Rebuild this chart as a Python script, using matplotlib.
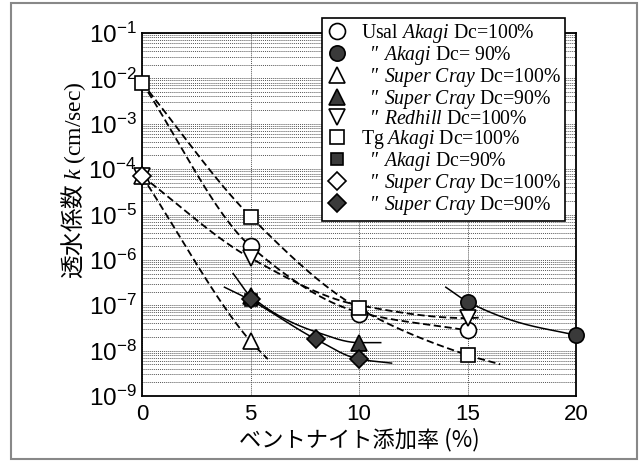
import numpy as np
import matplotlib
matplotlib.use("Agg")
import matplotlib.pyplot as plt
from matplotlib.patches import Rectangle
from matplotlib.font_manager import FontProperties

plt.rcParams['mathtext.fontset'] = 'custom'
plt.rcParams['mathtext.rm'] = 'Liberation Serif'
plt.rcParams['mathtext.sf'] = 'Liberation Sans'
plt.rcParams['mathtext.it'] = 'Liberation Serif:italic'
plt.rcParams['mathtext.default'] = 'rm'

# ---------------- data ----------------
xticks = [0, 5, 10, 15, 20]
ytick_exps = [-9, -8, -7, -6, -5, -4, -3, -2, -1]

DITTO = "\u2033"
labels = [
    "Usal $\\mathit{Akagi}$ Dc=100%",
    "  " + DITTO + " $\\mathit{Akagi}$ Dc= 90%",
    "  " + DITTO + " $\\mathit{Super\\ Cray}$ Dc=100%",
    "  " + DITTO + " $\\mathit{Super\\ Cray}$ Dc=90%",
    "  " + DITTO + " $\\mathit{Redhill}$ Dc=100%",
    "Tg $\\mathit{Akagi}$ Dc=100%",
    "  " + DITTO + " $\\mathit{Akagi}$ Dc=90%",
    "  " + DITTO + " $\\mathit{Super\\ Cray}$ Dc=100%",
    "  " + DITTO + " $\\mathit{Super\\ Cray}$ Dc=90%",
]

usal_akagi100_x = [5, 10, 15]
usal_akagi100_k = [2.0e-6, 6.5e-8, 2.8e-8]
usal_akagi90_x = [15, 20]
usal_akagi90_k = [1.2e-7, 2.2e-8]
usal_sc100_x = [0, 5]
usal_sc100_k = [7e-5, 1.6e-8]
usal_sc90_x = [5, 10]
usal_sc90_k = [1.6e-7, 1.5e-8]
usal_red100_x = [0, 5, 15]
usal_red100_k = [7e-5, 1.1e-6, 5.2e-8]
tg_akagi100_x = [0, 5, 10, 15]
tg_akagi100_k = [8e-3, 9e-6, 8.5e-8, 8e-9]
tg_akagi90_x = [5]
tg_akagi90_k = [1.3e-7]
tg_sc100_x = [0]
tg_sc100_k = [7e-5]
tg_sc90_x = [5, 8, 10]
tg_sc90_k = [1.4e-7, 1.8e-8, 6.5e-9]

# fitted curves (knots)
fit_tg_akagi100_x = [0, 5, 10, 15, 16.5]
fit_tg_akagi100_k = [8e-3, 9e-6, 8.5e-8, 8e-9, 5e-9]
fit_usal_akagi100_x = [0, 5, 10, 15]
fit_usal_akagi100_k = [8e-3, 2.0e-6, 7e-8, 2.8e-8]
fit_red100_x = [0, 5, 10, 15, 15.7]
fit_red100_k = [7e-5, 1.1e-6, 1e-7, 5.2e-8, 5.4e-8]
fit_sc100_x = [0, 5, 5.8]
fit_sc100_k = [7e-5, 1.6e-8, 6.5e-9]
fit_akagi90_x = [14, 15, 17.5, 20]
fit_akagi90_k = [2.5e-7, 1.2e-7, 4e-8, 2.2e-8]
fit_sc90_x = [4.2, 5, 8, 10, 11]
fit_sc90_k = [5e-7, 1.6e-7, 2.6e-8, 1.5e-8, 1.5e-8]
fit_tgsc90_x = [3.8, 5, 8, 10, 11.5]
fit_tgsc90_k = [2.5e-7, 1.3e-7, 1.8e-8, 6.5e-9, 5.3e-9]


def pchip(xk, yk, xs):
    xk = np.asarray(xk, float); yk = np.asarray(yk, float)
    h = np.diff(xk); d = np.diff(yk) / h
    n = len(xk)
    m = np.zeros(n)
    m[0] = d[0]; m[-1] = d[-1]
    for i in range(1, n - 1):
        if d[i - 1] * d[i] > 0:
            w1 = 2 * h[i] + h[i - 1]; w2 = h[i] + 2 * h[i - 1]
            m[i] = (w1 + w2) / (w1 / d[i - 1] + w2 / d[i])
    idx = np.clip(np.searchsorted(xk, xs) - 1, 0, n - 2)
    t = (xs - xk[idx]) / h[idx]
    h00 = 2 * t**3 - 3 * t**2 + 1; h10 = t**3 - 2 * t**2 + t
    h01 = -2 * t**3 + 3 * t**2; h11 = t**3 - t**2
    return h00 * yk[idx] + h10 * h[idx] * m[idx] + h01 * yk[idx + 1] + h11 * h[idx] * m[idx + 1]


def curve(ax, xk, kk, ls):
    xs = np.linspace(xk[0], xk[-1], 200)
    ys = 10 ** pchip(xk, np.log10(kk), xs)
    if ls == 'dash':
        ax.plot(xs, ys, color='black', lw=1.3, dashes=(4, 2), zorder=3)
    else:
        ax.plot(xs, ys, color='black', lw=1.1, zorder=3)


fig = plt.figure(figsize=(6.41, 4.61), dpi=100)
fig.patches.append(Rectangle((11 / 641, 2 / 461), 626 / 641, 456 / 461,
                             transform=fig.transFigure, fill=False,
                             edgecolor='#888888', lw=1.5))
ax = fig.add_axes([142 / 641, 1 - 396 / 461, 434 / 641, 363 / 461])
ax.set_yscale('log')
ax.set_xlim(0, 20)
ax.set_ylim(1e-9, 1e-1)

ax.set_yticks([10.0**e for e in ytick_exps])
ax.set_yticklabels(["$\\mathsf{10^{%d}}$" % e for e in ytick_exps])
ax.set_xticks(xticks)
ax.set_xticklabels([str(v) for v in xticks])
ax.yaxis.set_minor_locator(matplotlib.ticker.LogLocator(base=10, subs=np.arange(2, 10), numticks=20))
ax.yaxis.set_minor_formatter(matplotlib.ticker.NullFormatter())
ax.tick_params(which='both', length=0)
ax.tick_params(axis='y', labelsize=17.5, pad=4)
ax.tick_params(axis='x', labelsize=16, pad=6)
for lab in ax.get_xticklabels() + ax.get_yticklabels():
    lab.set_fontfamily('Liberation Sans')
ax.grid(True, which='both', axis='y', color='#555555', lw=0.7, ls=(0, (1, 1)))
ax.grid(True, which='major', axis='x', color='#555555', lw=0.7, ls=(0, (1, 1)))
for s in ax.spines.values():
    s.set_linewidth(1.3)

curve(ax, fit_tg_akagi100_x, fit_tg_akagi100_k, 'dash')
curve(ax, fit_usal_akagi100_x, fit_usal_akagi100_k, 'dash')
curve(ax, fit_red100_x, fit_red100_k, 'dash')
curve(ax, fit_sc100_x, fit_sc100_k, 'dash')
curve(ax, fit_akagi90_x, fit_akagi90_k, 'solid')
curve(ax, fit_sc90_x, fit_sc90_k, 'solid')
curve(ax, fit_tgsc90_x, fit_tgsc90_k, 'solid')

dark = '#3a3a3a'
ms = 11
series = [
    (usal_akagi100_x, usal_akagi100_k, 'o', 'white', ms + 0.5),
    (usal_akagi90_x, usal_akagi90_k, 'o', dark, ms),
    (usal_sc100_x, usal_sc100_k, '^', 'white', ms + 1),
    (usal_sc90_x, usal_sc90_k, '^', dark, ms),
    (usal_red100_x, usal_red100_k, 'v', 'white', ms + 1),
    (tg_akagi100_x, tg_akagi100_k, 's', 'white', ms - 1),
    (tg_akagi90_x, tg_akagi90_k, 's', dark, ms - 2),
    (tg_sc100_x, tg_sc100_k, 'D', 'white', ms - 2),
    (tg_sc90_x, tg_sc90_k, 'D', dark, ms - 2),
]
handles = []
for (xv, kv, mk, fc, sz), lab in zip(series, labels):
    h, = ax.plot(xv, kv, ls='none', marker=mk, ms=sz, mfc=fc, mec='black',
                 mew=1.2, label=lab, zorder=4, clip_on=False)
    handles.append(h)

fp = FontProperties(family=['Liberation Serif', 'Noto Sans CJK JP'], size=14.2)
leg = fig.legend(handles=handles, loc='upper left', bbox_to_anchor=(322 / 641, 1 - 18 / 461),
                 prop=fp, frameon=True, fancybox=False, shadow=False,
                 borderpad=0.2, labelspacing=-0.05, handletextpad=0.7,
                 handlelength=1.1, borderaxespad=0, markerscale=1.0)
leg.get_frame().set_edgecolor('black')
leg.get_frame().set_linewidth(1.2)
leg.get_frame().set_alpha(1)

ax.set_xlabel("ベントナイト添加率 (%)", family=['Noto Sans CJK JP'], fontsize=16, labelpad=2)
ax.set_ylabel("透水係数 $\\mathit{k}$ $\\mathrm{(cm/sec)}$", family=['Noto Sans CJK JP'],
              fontsize=17)
ax.yaxis.set_label_coords(-0.125, 0.595)

fig.savefig("out.png", dpi=100)
